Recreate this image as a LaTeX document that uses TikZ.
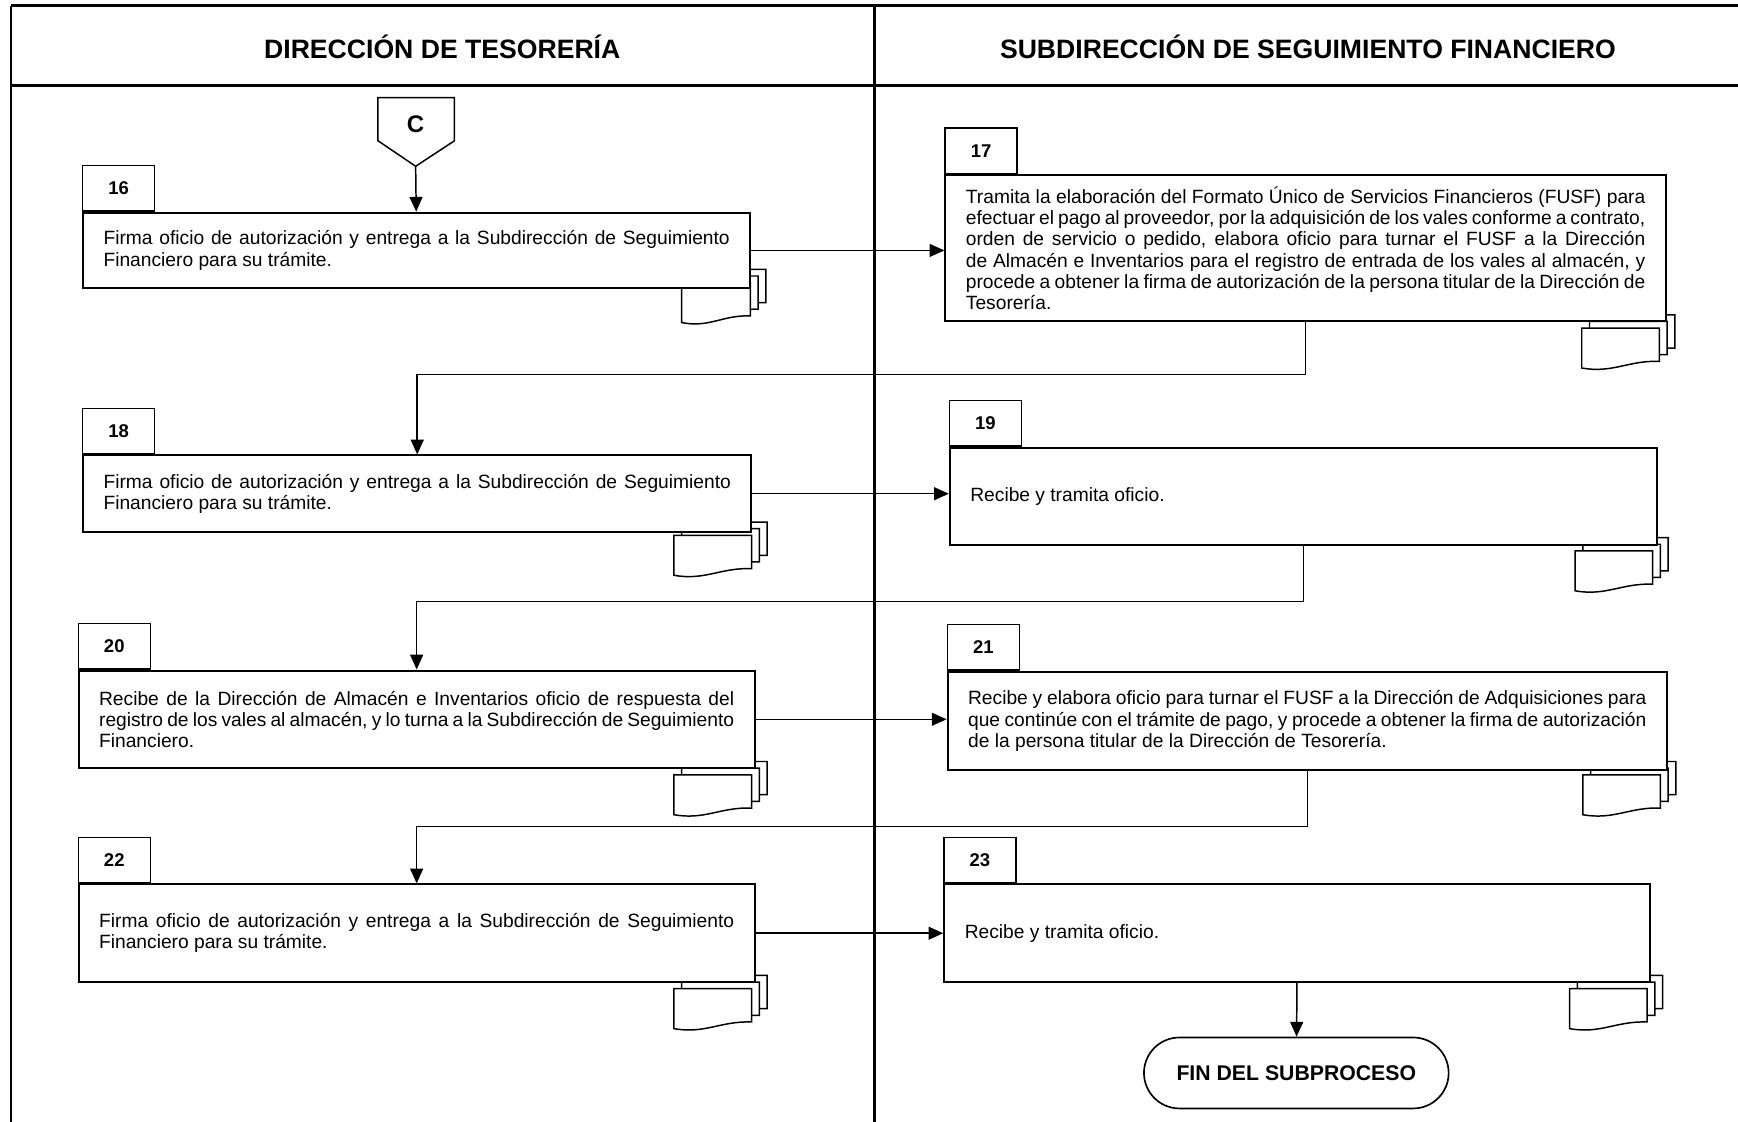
\documentclass[tikz,border=0pt]{standalone}
\usepackage{fontspec}
\setmainfont{Liberation Sans}
\usetikzlibrary{arrows.meta,shapes.misc}

\newlength{\px}
\setlength{\px}{0.6pt}
\newcommand{\boxfont}{\fontsize{10.4}{11.5}\selectfont\hyphenpenalty=10000 \exhyphenpenalty=10000 \relax}

\newcommand{\docstack}[3]{%
  \foreach \dx/\dy in {14/12,7/6,0/0}{
    \draw[doc] ({#1+\dx},{#2-\dy}) -- ({#1+\dx},{#2-\dy-36}) -- ({#1+\dx+#3},{#2-\dy-36})
      -- ({#1+\dx+#3},{#2-\dy-6}) .. controls ({#1+\dx+0.6*#3},{#2-\dy-7}) and ({#1+\dx+0.4*#3},{#2-\dy+5}) .. ({#1+\dx},{#2-\dy}) -- cycle;
  }}

\begin{document}
\begin{tikzpicture}[x=0.6pt,y=-0.6pt,
  lane/.style={line width=1.3pt},
  head/.style={font=\bfseries\fontsize{14.4}{17}\selectfont},
  box/.style={draw,line width=1.1pt,fill=white,inner sep=0pt,align=justify,anchor=north west,font=\boxfont},
  tab/.style={draw,line width=0.7pt,fill=white,inner sep=0pt,anchor=south west,minimum width=65\px,minimum height=41\px,font=\bfseries\fontsize{10}{12}\selectfont},
  doc/.style={line width=0.8pt,fill=white},
  flow/.style={line width=0.8pt,-{Triangle[length=8pt,width=7pt]}},
  fin/.style={rounded rectangle,draw,line width=0.9pt,minimum width=286\px,minimum height=64\px,font=\bfseries\fontsize{11.5}{13}\selectfont}]
\useasboundingbox (0,0) rectangle (1568,1012);

% carriles
\draw[lane,line width=1.6pt] (1568,5) -- (10,5);
\draw[lane] (10,5) -- (10,1012);
\draw[lane,line width=1.6pt] (10,77) -- (1568,77);
\draw[lane] (789,5) -- (789,1012);
\node[head] (h1) at (399,42) {DIRECCIÓN DE TESORERÍA};
\node[head] (h2) at (1180,42) {SUBDIRECCIÓN DE SEGUIMIENTO FINANCIERO};

% conector
\draw[doc] (341,88) -- (410,88) -- (410,127) -- (375,150) -- (341,127) -- cycle;
\node[font=\bfseries\fontsize{13}{15}\selectfont] (c) at (375,112) {C};
\coordinate (ctip) at (375,150);

% documentos
\docstack{615}{291}{62}
\docstack{1427}{332}{70}
\docstack{608}{519}{70}
\docstack{1421}{533}{70}
\docstack{608}{735}{70}
\docstack{1428}{735}{70}
\docstack{608}{928}{70}
\docstack{1416}{928}{70}

% actividades
\node[box,minimum width=602\px,minimum height=68\px,text width=565\px] (b16) at (74,191)
  {Firma oficio de autorización y entrega a la Subdirección de Seguimiento Financiero para su trámite.};
\node[tab] (t16) at (b16.north west) {16};

\node[box,minimum width=650\px,minimum height=132\px,text width=613\px] (b17) at (852,157)
  {Tramita la elaboración del Formato Único de Servicios Financieros (FUSF) para efectuar el pago al proveedor, por la adquisición de los vales conforme a contrato, orden de servicio o pedido, elabora oficio para turnar el FUSF a la Dirección de Almacén e Inventarios para el registro de entrada de los vales al almacén, y procede a obtener la firma de autorización de la persona titular de la Dirección de\linebreak Tesorería.};
\node[tab] (t17) at (b17.north west) {17};

\node[box,minimum width=603\px,minimum height=69\px,text width=566\px] (b18) at (74,410)
  {Firma oficio de autorización y entrega a la Subdirección de Seguimiento Financiero para su trámite.};
\node[tab] (t18) at (b18.north west) {18};

\node[box,minimum width=638\px,minimum height=88\px,text width=601\px] (b19) at (856,403)
  {Recibe y tramita oficio.};
\node[tab] (t19) at (b19.north west) {19};

\node[box,minimum width=610\px,minimum height=88\px,text width=573\px] (b20) at (70,604)
  {Recibe de la Dirección de Almacén e Inventarios oficio de respuesta del registro de los vales al almacén, y lo turna a la Subdirección de Seguimiento Financiero.};
\node[tab] (t20) at (b20.north west) {20};

\node[box,minimum width=649\px,minimum height=89\px,text width=612\px] (b21) at (854,605)
  {Recibe y elabora oficio para turnar el FUSF a la Dirección de Adquisiciones para que continúe con el trámite de pago, y procede a obtener la firma de autorización de la persona titular de la Dirección de Tesorería.};
\node[tab] (t21) at (b21.north west) {21};

\node[box,minimum width=610\px,minimum height=88\px,text width=573\px] (b22) at (70,797)
  {Firma oficio de autorización y entrega a la Subdirección de Seguimiento Financiero para su trámite.};
\node[tab] (t22) at (b22.north west) {22};

\node[box,minimum width=637\px,minimum height=88\px,text width=600\px] (b23) at (851,797)
  {Recibe y tramita oficio.};
\node[tab] (t23) at (b23.north west) {23};

\node[fin] (fin) at (1169.5,968) {FIN DEL SUBPROCESO};

% flujo
\draw[flow] (ctip) -- (b16);
\draw[flow] (b16.east) -- (b16.east -| b17.west);
\draw[flow] (b17.south) -- ++(0,47) -| (b18.north);
\draw[flow] (b18.east) -- (b18.east -| b19.west);
\draw[flow] (b19.south) -- ++(0,50) -| (b20.north);
\draw[flow] (b20.east) -- (b20.east -| b21.west);
\draw[flow] (b21.south) -- ++(0,50) -| (b22.north);
\draw[flow] (b22.east) -- (b22.east -| b23.west);
\draw[flow] (b23) -- (fin);
\end{tikzpicture}
\end{document}
